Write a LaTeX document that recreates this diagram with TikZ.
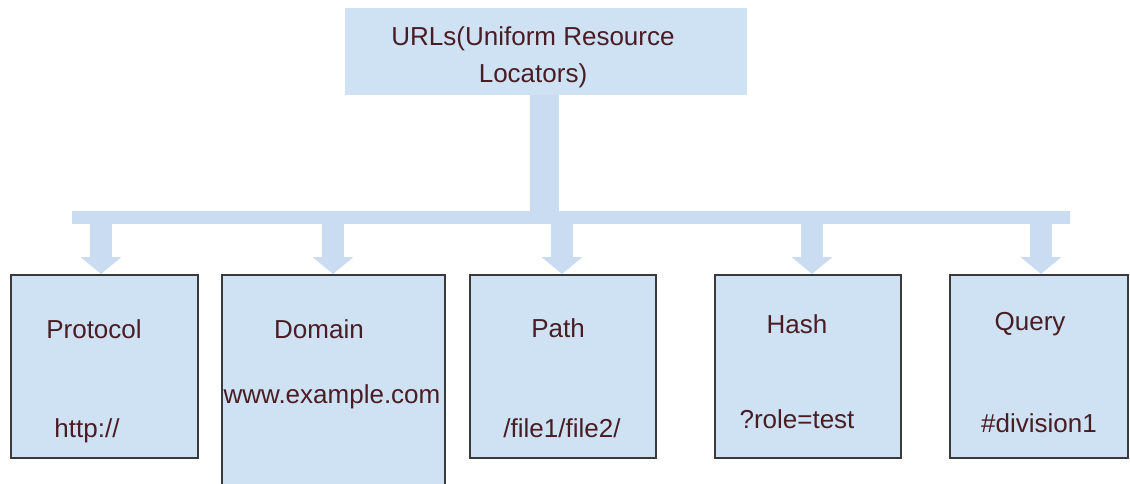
\documentclass[tikz,border=0pt]{standalone}
\usepackage{fontspec}
\setmainfont{Liberation Sans}
\usetikzlibrary{arrows.meta,calc}
\definecolor{boxfill}{HTML}{CFE2F3}
\definecolor{flowc}{HTML}{C9DCF1}
\definecolor{txt}{HTML}{4A1C24}
\definecolor{edge}{HTML}{3A3A3A}
\tikzset{
  part/.style={draw=edge, line width=1.6pt, fill=boxfill, inner sep=0pt, anchor=north west},
  lbl/.style={text=txt, font=\fontsize{26}{37}\selectfont, inner sep=0pt, anchor=base},
  feed/.style={draw=flowc, line width=22pt, -{Triangle[width=40pt,length=17pt]}},
}
\begin{document}
\begin{tikzpicture}[x=1pt,y=-1pt]
\useasboundingbox (0,0) rectangle (1130,483);
\begin{scope}
\clip (0,0) rectangle (1130,483);
% top box
\node[fill=boxfill, inner sep=0pt, minimum width=402pt, minimum height=87pt, anchor=north west] (top) at (345,8) {};
\node[lbl, align=center] (t1) at (533,45) {URLs(Uniform Resource};
\node[lbl] (t2) at (533,82) {Locators)};
% stem and bar
\coordinate (j) at (544.5,213);
\draw[flowc, line width=29pt] (top.south -| j) -- (j);
\coordinate (bl) at (72,217.5);
\coordinate (br) at (1070,217.5);
\draw[flowc, line width=13pt] (bl) -- (br);
% boxes
\node[part, minimum width=187pt, minimum height=183pt] (p) at (10,274) {};
\node[part, minimum width=223pt, minimum height=240pt] (d) at (221,274) {};
\node[part, minimum width=186pt, minimum height=183pt] (pa) at (469,274) {};
\node[part, minimum width=186pt, minimum height=183pt] (h) at (714,274) {};
\node[part, minimum width=178pt, minimum height=183pt] (q) at (949,274) {};
% arrows
\coordinate (a1) at (101,222);
\coordinate (a2) at (333,222);
\coordinate (a3) at (562,222);
\coordinate (a4) at (812,222);
\coordinate (a5) at (1041,222);
\draw[feed] (a1) -- (a1 |- p.north);
\draw[feed] (a2) -- (a2 |- d.north);
\draw[feed] (a3) -- (a3 |- pa.north);
\draw[feed] (a4) -- (a4 |- h.north);
\draw[feed] (a5) -- (a5 |- q.north);
% labels
\node[lbl] (p1) at (94,338) {Protocol};
\node[lbl] (p2) at (87,437) {http://};
\node[lbl] (d1) at (319,338) {Domain};
\node[lbl] (d2) at (332,403) {www.example.com};
\node[lbl] (pa1) at (558,337) {Path};
\node[lbl] (pa2) at (562,437) {/file1/file2/};
\node[lbl] (h1) at (797,333) {Hash};
\node[lbl] (h2) at (797,428) {?role=test};
\node[lbl] (q1) at (1030,330) {Query};
\node[lbl] (q2) at (1039,432) {\#division1};
\end{scope}
\end{tikzpicture}
\end{document}
